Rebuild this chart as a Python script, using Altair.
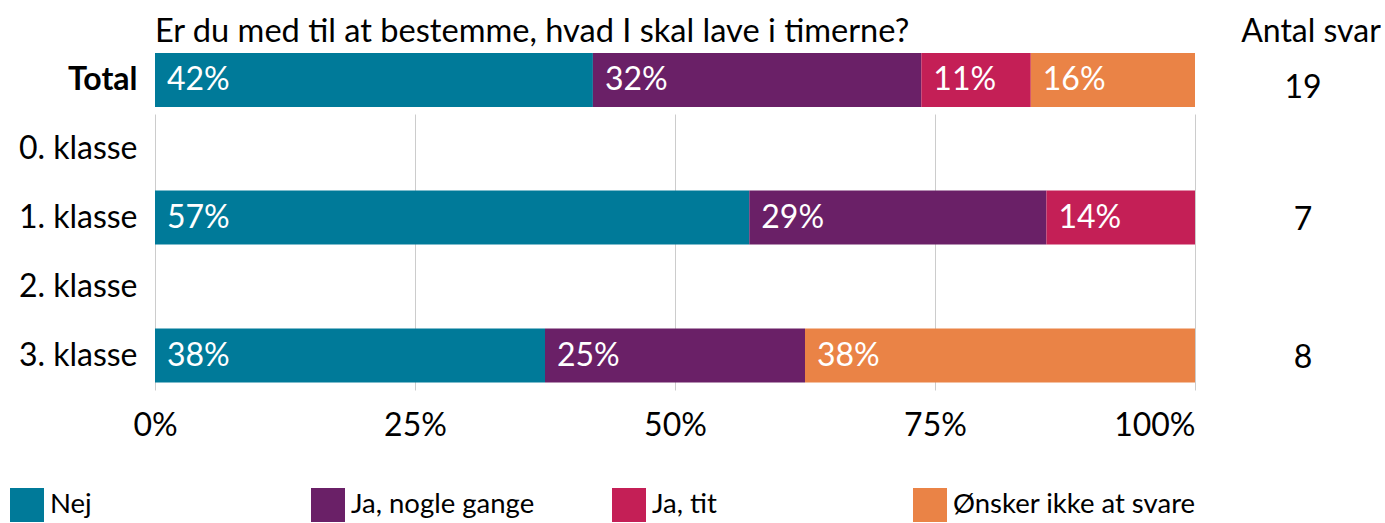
import altair as alt
import pandas as pd

categories = ["Nej", "Ja, nogle gange", "Ja, tit", "Ønsker ikke at svare"]
colors = ["#007A99", "#6A2067", "#C41F56", "#EA8346"]
class_groups = ["0. klasse", "1. klasse", "2. klasse", "3. klasse"]

# answer counts per group, in category order
total_counts = [8, 6, 2, 3]
k1_counts = [4, 2, 1, 0]
k3_counts = [3, 2, 0, 3]

title_text = "Er du med til at bestemme, hvad I skal lave i timerne?"
count_header = "Antal svar"
ticks = [0, 25, 50, 75, 100]

FONT = "Lato"
FS = 32


def build(group, counts):
    n = sum(counts)
    rows = []
    start = 0.0
    for i, (cat, c) in enumerate(zip(categories, counts)):
        if c == 0:
            continue
        p = c / n * 100
        rows.append({"group": group, "category": cat, "ord": i, "start": start,
                     "end": start + p, "label": f"{p:.0f}%"})
        start += p
    return rows, {"group": group, "n": str(n)}


tot_rows, tot_n = build("Total", total_counts)
k1_rows, k1_n = build("1. klasse", k1_counts)
k3_rows, k3_n = build("3. klasse", k3_counts)

df_total = pd.DataFrame(tot_rows)
df_classes = pd.DataFrame(k1_rows + k3_rows)
n_total = pd.DataFrame([tot_n])
n_classes = pd.DataFrame([k1_n, k3_n])
hdr = pd.DataFrame({"t": [count_header]})
ttl = pd.DataFrame({"t": [title_text]})

color = alt.Color("category:N", scale=alt.Scale(domain=categories, range=colors),
                  legend=alt.Legend(title=None, orient="none", legendX=-145, legendY=435,
                                    direction="horizontal", columns=4, symbolType="square",
                                    symbolSize=1156, symbolStrokeWidth=0, symbolOpacity=1,
                                    labelFontSize=27.5, labelOffset=6, gridAlign="all",
                                    columnPadding=18, labelFont=FONT, labelColor="#000",
                                    labelLimit=400))

xscale = alt.Scale(domain=[0, 100], nice=False, zero=True)

# --- top: Total ---
ytop = alt.Y("group:N", scale=alt.Scale(domain=["Total"], paddingInner=0, paddingOuter=0),
             axis=alt.Axis(title=None, labelFontSize=FS, labelFontWeight="bold", labelPadding=18,
                           ticks=False, domain=False, labelColor="#000", labelFont=FONT))
top_bars = alt.Chart(df_total).mark_bar().encode(
    y=ytop, x=alt.X("start:Q", scale=xscale, axis=None), x2="end:Q", color=color)
top_text = alt.Chart(df_total).mark_text(align="left", baseline="middle", dx=12, color="white",
                                         fontSize=FS, font=FONT).encode(
    y=ytop, x=alt.X("start:Q", scale=xscale, axis=None), text="label:N")
top_n = alt.Chart(n_total).mark_text(align="center", baseline="middle", dy=8, color="black",
                                     fontSize=FS, font=FONT).encode(
    y=ytop, x=alt.value(1148), text="n:N")
top_hdr = alt.Chart(hdr).mark_text(align="center", baseline="alphabetic", color="black",
                                   fontSize=FS, font=FONT).encode(
    x=alt.value(1156), y=alt.value(-11), text="t:N")
top_ttl = alt.Chart(ttl).mark_text(align="left", baseline="alphabetic", color="black",
                                   fontSize=32.6, font=FONT).encode(
    x=alt.value(0), y=alt.value(-11), text="t:N")
top = alt.layer(top_bars, top_text, top_n, top_hdr, top_ttl).properties(width=1040, height=54)

# --- bottom: classes ---
ybot = alt.Y("group:N", scale=alt.Scale(domain=class_groups, paddingInner=0.2174, paddingOuter=0.1087),
             axis=alt.Axis(title=None, labelFontSize=FS, labelPadding=18, ticks=False, domain=False,
                           labelColor="#000", labelFont=FONT, grid=False))
xbot = alt.X("start:Q", scale=xscale,
             axis=alt.Axis(values=ticks, labelExpr="datum.value + '%'", grid=True, gridColor="#cccccc",
                           domain=False, ticks=False, title=None, labelFontSize=FS, labelPadding=20,
                           labelColor="#000", labelFont=FONT, labelFlush=False,
                           labelAlign={"expr": "datum.value == 100 ? 'right' : 'center'"}))
bot_bars = alt.Chart(df_classes).mark_bar().encode(y=ybot, x=xbot, x2="end:Q", color=color)
bot_text = alt.Chart(df_classes).mark_text(align="left", baseline="middle", dx=12, color="white",
                                           fontSize=FS, font=FONT).encode(
    y=ybot, x=alt.X("start:Q", scale=xscale), text="label:N")
bot_n = alt.Chart(n_classes).mark_text(align="center", baseline="middle", dy=2, color="black",
                                       fontSize=FS, font=FONT).encode(
    y=ybot, x=alt.value(1148), text="n:N")
bottom = alt.layer(bot_bars, bot_text, bot_n).properties(width=1040, height=276)

chart = alt.vconcat(top, bottom, spacing=7).resolve_scale(x="shared").configure(
    font=FONT, padding={"left": 10, "top": 16, "right": 0, "bottom": 0}
).configure_view(stroke=None)

chart.save("out.html", embed_options={"renderer": "svg", "actions": False})
